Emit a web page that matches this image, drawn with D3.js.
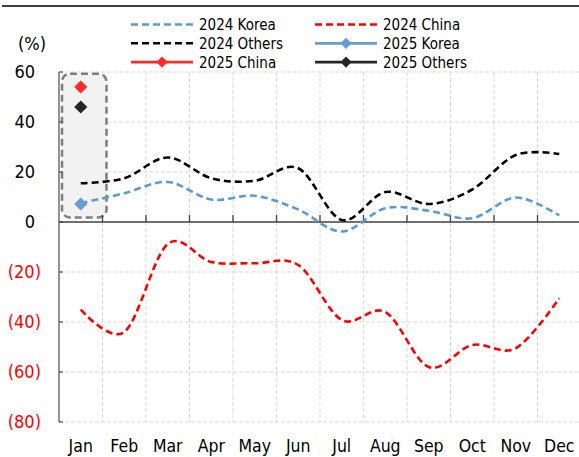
<!DOCTYPE html>
<html>
<head>
<meta charset="utf-8">
<script src="https://cdn.jsdelivr.net/npm/d3@7"></script>
<style>
  html, body { margin: 0; padding: 0; background: #fff; }
  svg { display: block; font-family: "DejaVu Sans Condensed", "DejaVu Sans", sans-serif; }
</style>
</head>
<body>
<div id="chart"></div>
<script>
// data
const months = ['Jan', 'Feb', 'Mar', 'Apr', 'May', 'Jun', 'Jul', 'Aug', 'Sep', 'Oct', 'Nov', 'Dec'];
const korea2024 = [7.5, 11.5, 16, 9, 10.5, 5, -3.8, 5.5, 4.5, 1.5, 9.8, 2.6];
const china2024 = [-35, -44, -8.8, -16, -16.5, -17.2, -39.2, -36, -58, -49.2, -50.5, -30.5];
const others2024 = [15.5, 17.5, 25.8, 17.5, 16.5, 21.5, 0.8, 12, 7.2, 13, 26.8, 27.2];
const korea2025 = [7.2];
const china2025 = [54];
const others2025 = [46];
const yTicks = [-80, -60, -40, -20, 0, 20, 40, 60];

const W = 579, H = 457;
const margin = { top: 72, bottom: 35, left: 59, right: -2 };

const colors = { korea: '#5b9bd5', china: '#ff0000', others: '#000000' };
const markerColors = { korea: '#6a9bd1', china: '#ff2a2a', others: '#262626' };

const svg = d3.select('#chart')
  .append('svg')
  .attr('width', W)
  .attr('height', H);

const x = d3.scaleBand()
  .domain(months)
  .range([margin.left, W - margin.right])
  .padding(0);
const y = d3.scaleLinear()
  .domain([-80, 60])
  .range([H - margin.bottom, margin.top]);
const xc = m => x(m) + x.bandwidth() / 2;

// top rule
svg.append('line')
  .attr('x1', 2).attr('x2', W)
  .attr('y1', 6).attr('y2', 6)
  .attr('stroke', '#000').attr('stroke-width', 1.6);

// grid
const grid = svg.append('g').attr('class', 'grid');
grid.selectAll('line.h')
  .data(yTicks.filter(d => d !== 0))
  .join('line')
  .attr('class', 'h')
  .attr('x1', margin.left).attr('x2', W)
  .attr('y1', d => y(d)).attr('y2', d => y(d))
  .attr('stroke', '#d9d9d9').attr('stroke-width', 1)
  .attr('stroke-dasharray', '4,2');
grid.selectAll('line.v')
  .data(months.slice(1))
  .join('line')
  .attr('class', 'v')
  .attr('x1', d => x(d)).attr('x2', d => x(d))
  .attr('y1', y(60)).attr('y2', y(-80))
  .attr('stroke', '#d9d9d9').attr('stroke-width', 1)
  .attr('stroke-dasharray', '4,2');

// highlight box around January 2025 values
svg.append('rect')
  .attr('x', x('Jan') + 3)
  .attr('y', y(59.3))
  .attr('width', x('Feb') + 4 - (x('Jan') + 3))
  .attr('height', y(1.8) - y(59.3))
  .attr('rx', 8)
  .attr('fill', '#f2f2f2')
  .attr('stroke', '#7f7f7f')
  .attr('stroke-width', 2.5)
  .attr('stroke-dasharray', '7,4');

// y axis
const yAxis = svg.append('g').attr('class', 'y-axis');
yAxis.append('line')
  .attr('x1', margin.left).attr('x2', margin.left)
  .attr('y1', y(60)).attr('y2', y(-80))
  .attr('stroke', '#595959').attr('stroke-width', 1.3);
yAxis.selectAll('line.tick')
  .data(yTicks)
  .join('line')
  .attr('class', 'tick')
  .attr('x1', margin.left).attr('x2', margin.left + 4)
  .attr('y1', d => y(d)).attr('y2', d => y(d))
  .attr('stroke', '#595959').attr('stroke-width', 1.3);
yAxis.selectAll('text')
  .data(yTicks)
  .join('text')
  .attr('x', d => d < 0 ? 41 : 35)
  .attr('y', d => y(d))
  .attr('dy', '0.36em')
  .attr('text-anchor', 'end')
  .attr('font-size', 18)
  .attr('fill', d => d < 0 ? '#ff0000' : '#000')
  .text(d => d < 0 ? `(${-d})` : d);

svg.append('text')
  .attr('x', 18).attr('y', 50)
  .attr('font-size', 18)
  .text('(%)');

// zero axis
const xAxis = svg.append('g').attr('class', 'x-axis');
xAxis.append('line')
  .attr('x1', margin.left).attr('x2', W)
  .attr('y1', y(0)).attr('y2', y(0))
  .attr('stroke', '#404040').attr('stroke-width', 1.5);
xAxis.selectAll('line.tick')
  .data(months.slice(1))
  .join('line')
  .attr('class', 'tick')
  .attr('x1', d => x(d)).attr('x2', d => x(d))
  .attr('y1', y(0)).attr('y2', y(0) - 7)
  .attr('stroke', '#404040').attr('stroke-width', 1.3);
xAxis.selectAll('text')
  .data(months)
  .join('text')
  .attr('x', d => xc(d))
  .attr('y', 452)
  .attr('text-anchor', 'middle')
  .attr('font-size', 17.5)
  .attr('fill', '#000')
  .text(d => d);

// 2024 lines
const line = d3.line()
  .x((d, i) => xc(months[i]))
  .y(d => y(d))
  .curve(d3.curveCardinal.tension(0));

const series2024 = [
  { key: 'korea', values: korea2024 },
  { key: 'others', values: others2024 },
  { key: 'china', values: china2024 }
];
svg.append('g').attr('class', 'lines')
  .selectAll('path')
  .data(series2024)
  .join('path')
  .attr('d', d => line(d.values))
  .attr('fill', 'none')
  .attr('stroke', d => colors[d.key])
  .attr('stroke-width', 2.6)
  .attr('stroke-dasharray', '7,4');

// 2025 points
const diamond = d3.symbol().type(d3.symbolDiamond2).size(110);
const series2025 = [
  { key: 'china', values: china2025 },
  { key: 'others', values: others2025 },
  { key: 'korea', values: korea2025 }
];
svg.append('g').attr('class', 'points')
  .selectAll('path')
  .data(series2025.flatMap(s => s.values.map((v, i) => ({ key: s.key, m: months[i], v }))))
  .join('path')
  .attr('d', diamond)
  .attr('transform', d => `translate(${xc(d.m)},${y(d.v)})`)
  .attr('fill', d => markerColors[d.key]);

// legend
const legendItems = [
  { label: '2024 Korea', key: 'korea', dashed: true },
  { label: '2024 China', key: 'china', dashed: true },
  { label: '2024 Others', key: 'others', dashed: true },
  { label: '2025 Korea', key: 'korea', dashed: false },
  { label: '2025 China', key: 'china', dashed: false },
  { label: '2025 Others', key: 'others', dashed: false }
];
const legend = svg.append('g').attr('class', 'legend');
const item = legend.selectAll('g')
  .data(legendItems)
  .join('g')
  .attr('transform', (d, i) => `translate(${i % 2 === 0 ? 131 : 315},${24.5 + Math.floor(i / 2) * 18.8})`);
item.append('line')
  .attr('x1', 0).attr('x2', 62)
  .attr('stroke', d => d.dashed ? colors[d.key] : markerColors[d.key])
  .attr('stroke-width', d => d.dashed ? 2.6 : 2.8)
  .attr('stroke-dasharray', d => d.dashed ? '7,4' : null);
item.filter(d => !d.dashed)
  .append('path')
  .attr('d', d3.symbol().type(d3.symbolDiamond2).size(80))
  .attr('transform', 'translate(31,0)')
  .attr('fill', d => markerColors[d.key]);
item.append('text')
  .attr('x', 68)
  .attr('dy', '0.36em')
  .attr('font-size', 15)
  .attr('fill', '#000')
  .text(d => d.label);
</script>
</body>
</html>
